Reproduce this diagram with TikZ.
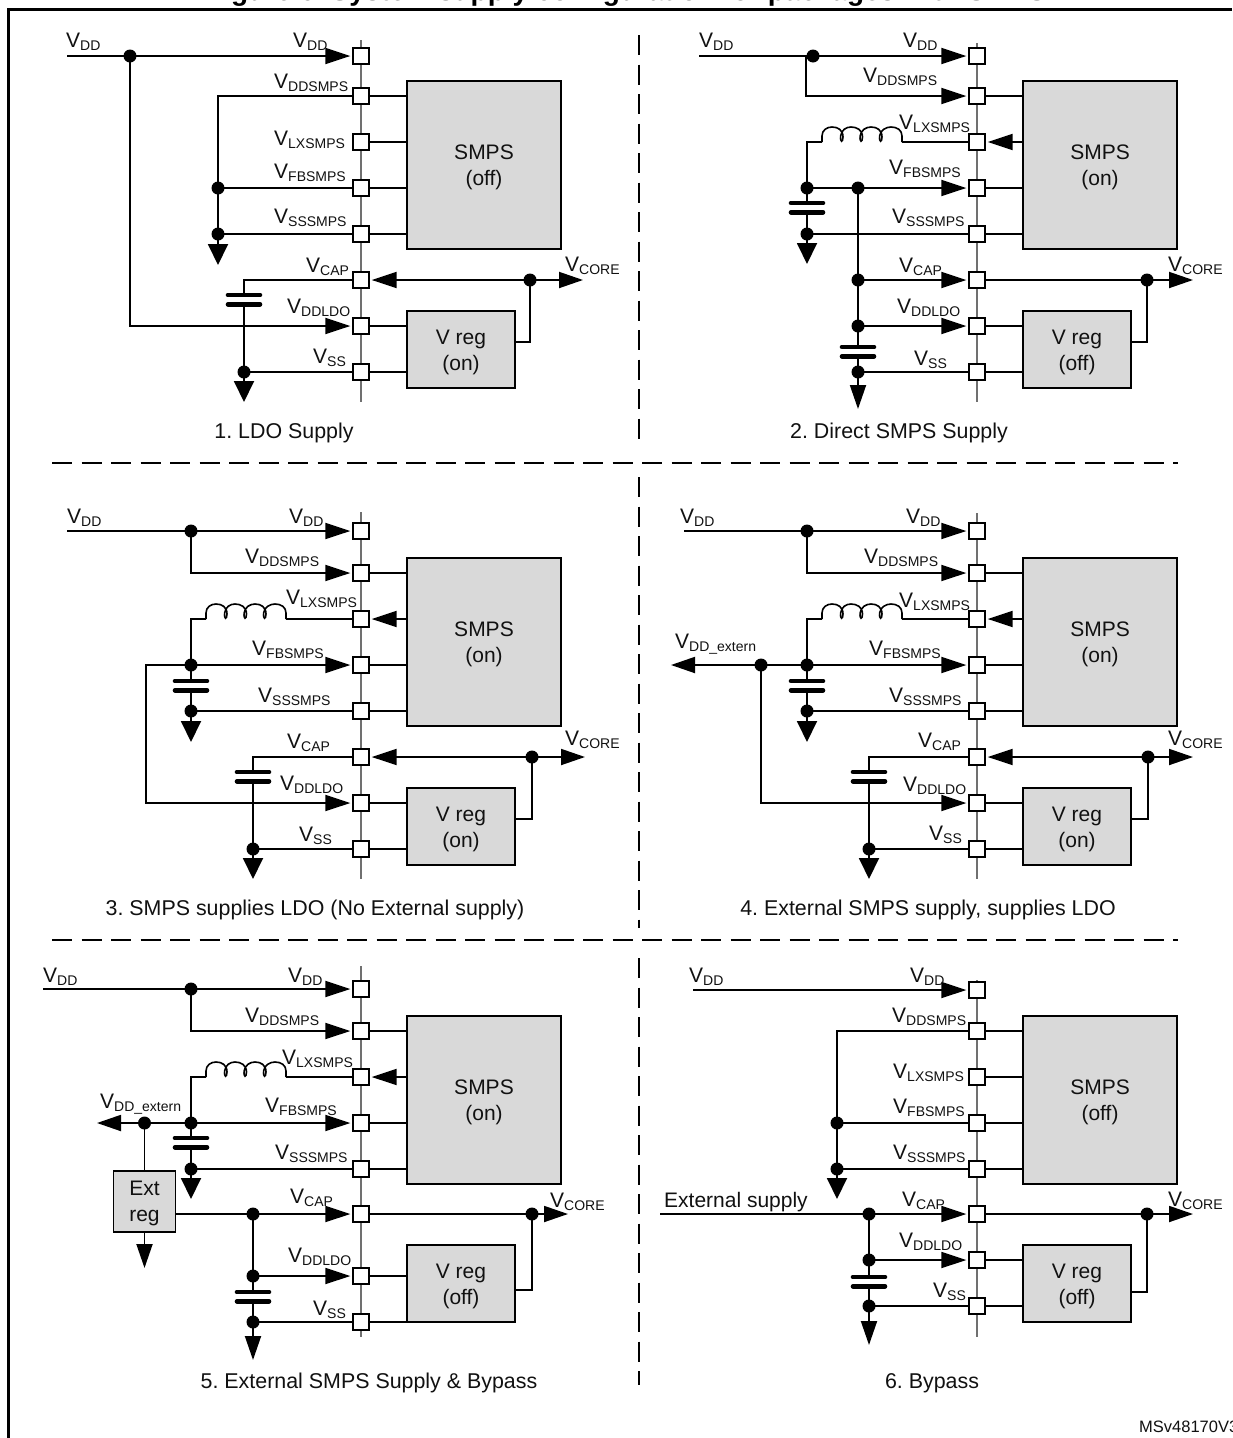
\documentclass[tikz,border=0pt]{standalone}
\usepackage{fontspec}
\setmainfont{Liberation Sans}
\usetikzlibrary{arrows.meta,calc}
\frenchspacing
\definecolor{boxgray}{HTML}{D9D9D9}
\definecolor{busgray}{HTML}{707070}
\definecolor{inkc}{HTML}{111111}
\tikzset{
  wire/.style={line width=1.9pt,draw=black,line join=miter},
  arr/.style={-{Triangle[length=25pt,width=16pt]},shorten >=2pt},
  tipcore/.style={-{Triangle[length=24pt,width=16pt]}},
  gnda/.style={-{Triangle[length=21pt,width=20pt]}},
  gndb/.style={-{Triangle[length=24pt,width=16pt]}},
  buswire/.style={line width=1.5pt,draw=busgray},
  padbox/.style={rectangle,draw=black,fill=white,line width=1.8pt,minimum size=15.5pt,inner sep=0pt},
  jdot/.style={circle,fill=black,minimum size=13pt,inner sep=0pt},
  plate/.style={line width=4.6pt,line cap=round},
  graybox/.style={rectangle,draw=black,fill=boxgray,line width=1.9pt,inner sep=0pt,align=center,
    font=\fontsize{21}{26}\selectfont,text=inkc},
  lab/.style={anchor=base west,inner sep=0pt,text=inkc},
  capt/.style={anchor=base,inner sep=0pt,text=inkc,font=\fontsize{21.4}{24}\selectfont},
  divider/.style={line width=2pt,dash pattern=on 20pt off 9.5pt},
}
\newcount\lc
\newcommand{\vlab}[3]{\global\advance\lc by 1
  \node[lab] (lab\the\lc) at (#1,#2) {\fontsize{21}{24}\selectfont V\raisebox{-3.5pt}{\fontsize{14}{16}\selectfont #3}};}
\newcommand{\chipbus}[9]{%
  \coordinate (#1-bt) at (#2,#3);
  \coordinate (#1-bb) at (#2,#4);
  \draw[buswire] (#1-bt) -- (#1-bb);
  \node[padbox] (#1-dd) at (#2,#5) {};
  \node[padbox] (#1-sm) at (#2,#6) {};
  \node[padbox] (#1-lx) at (#2,#6+46) {};
  \node[padbox] (#1-fb) at (#2,#6+92) {};
  \node[padbox] (#1-ss) at (#2,#6+138) {};
  \node[padbox] (#1-cap) at (#2,#7) {};
  \node[padbox] (#1-ldo) at (#2,#8) {};
  \node[padbox] (#1-vss) at (#2,#9) {};
}
\newcommand{\smpsbox}[4]{%
  \node[graybox,minimum width=154pt,minimum height=168pt] (#1-smps) at (#2,#3) {\rule{0pt}{19.5pt}SMPS\\(#4)};
  \draw[wire] (#1-sm.east) -- (#1-sm.east -| #1-smps.west);
  \draw[wire] (#1-fb.east) -- (#1-fb.east -| #1-smps.west);
  \draw[wire] (#1-ss.east) -- (#1-ss.east -| #1-smps.west);
}
\newcommand{\vregbox}[4]{%
  \node[graybox,minimum width=108pt,minimum height=77pt] (#1-vreg) at (#2,#3) {\rule{0pt}{20.5pt}V reg\\(#4)};
  \draw[wire] (#1-ldo.east) -- (#1-ldo.east -| #1-vreg.west);
  \draw[wire] (#1-vss.east) -- (#1-vss.east -| #1-vreg.west);
}
\newcommand{\lxin}[1]{\draw[wire,arr] (#1-lx -| #1-smps.west) -- (#1-lx.east);}
\newcommand{\lxoff}[1]{\draw[wire] (#1-lx.east) -- (#1-lx.east -| #1-smps.west);}
\newcommand{\jd}[3]{\node[jdot] (#1) at (#2,#3) {};}
\newcommand{\capc}[3]{%
  \coordinate (#1-t) at (#2,#3);
  \coordinate (#1-b) at (#2,#3+9.2);
  \draw[plate] (#2-16,#3) -- (#2+16,#3);
  \draw[plate] (#2-16,#3+9.2) -- (#2+16,#3+9.2);
}
\newcommand{\induct}[3]{%
  \coordinate (#1-l) at (#2,#3);
  \coordinate (#1-r) at (#2+80,#3);
  \begin{scope}[shift={(#2,#3)}]
  \draw[wire,line width=1.6pt] (0,0) -- (0,-6)
    .. controls (0,-12) and (5,-15) .. (10,-15) .. controls (16,-15) and (21,-12) .. (21,-5)
    .. controls (21,0.8) and (18,0.8) .. (18.6,-6)
    .. controls (19.5,-12) and (24,-15) .. (29,-15) .. controls (35,-15) and (40.5,-12) .. (40.5,-5)
    .. controls (40.5,0.8) and (37.5,0.8) .. (38.1,-6)
    .. controls (39,-12) and (44,-15) .. (49,-15) .. controls (55,-15) and (60,-12) .. (60,-5)
    .. controls (60,0.8) and (57,0.8) .. (57.6,-6)
    .. controls (58.5,-12) and (64,-15) .. (69,-15) .. controls (75,-15) and (80,-12) .. (80,-6) -- (80,0);
  \end{scope}
}
\begin{document}
\begin{tikzpicture}[x=1pt,y=-1pt]
\useasboundingbox (0,0) rectangle (1232,1438);
\fill[white] (0,0) rectangle (1232,1438);
\node[anchor=base west,inner sep=0pt,font=\bfseries\fontsize{28}{32}\selectfont] (title) at (206,0)
  {Figure 6. System supply configuration for packages with SMPS};
\draw[line width=2.6pt] (8.5,1438) -- (8.5,9.5) -- (1232,9.5);
\draw[divider] (639,35) -- (639,440);
\draw[divider] (639,477) -- (639,928);
\draw[divider] (639,958) -- (639,1385);
\draw[divider] (52,463) -- (1178,463);
\draw[divider] (52,940) -- (1178,940);
\node[anchor=base west,inner sep=0pt,text=inkc,font=\fontsize{16.5}{18}\selectfont] (mark) at (1139,1432) {MSv48170V3};

% ---------- Panel 1
\chipbus{p1}{361}{40}{402}{56}{96}{280}{326}{372}
\smpsbox{p1}{484}{165}{off}
\vregbox{p1}{461}{349.5}{on}
\lxoff{p1}
\jd{p1-a}{130}{56}\jd{p1-b}{218}{188}\jd{p1-c}{218}{234}\jd{p1-d}{244}{372}\jd{p1-e}{530}{280}
\coordinate (p1-in) at (67,56);
\coordinate (p1-g1) at (218,265);
\coordinate (p1-g2) at (244,402);
\coordinate (p1-core) at (583,280);
\coordinate (p1-f) at (515,342);
\capc{p1-k}{244}{295}
\draw[wire] (p1-in) -- (p1-a.center);
\draw[wire,arr] (p1-a.center) -- (p1-dd.west);
\draw[wire,arr] (p1-a.center) |- (p1-ldo.west);
\draw[wire] (p1-sm.west) -| (p1-b.center);
\draw[wire] (p1-b.center) -- (p1-c.center);
\draw[wire] (p1-b.center) -- (p1-fb.west);
\draw[wire] (p1-c.center) -- (p1-ss.west);
\draw[wire,gnda] (p1-c.center) -- (p1-g1);
\draw[wire] (p1-cap.west) -| (p1-k-t);
\draw[wire] (p1-k-b) -- (p1-d.center);
\draw[wire] (p1-d.center) -- (p1-vss.west);
\draw[wire,gnda] (p1-d.center) -- (p1-g2);
\draw[wire,arr] (p1-e.center) -- (p1-cap.east);
\draw[wire,tipcore] (p1-e.center) -- (p1-core);
\draw[wire] (p1-f) -| (p1-e.center);
\vlab{66}{47}{DD}\vlab{293}{47}{DD}\vlab{274}{88}{DDSMPS}\vlab{274}{145}{LXSMPS}
\vlab{274}{178}{FBSMPS}\vlab{274}{223}{SSSMPS}\vlab{306}{272}{CAP}\vlab{287}{313}{DDLDO}
\vlab{313}{363}{SS}\vlab{565}{271}{CORE}
\node[capt] (cap1) at (284,438) {1. LDO Supply};

% ---------- Panel 2
\chipbus{p2}{977}{43}{402}{56}{96}{280}{326}{372}
\smpsbox{p2}{1100}{165}{on}
\vregbox{p2}{1077}{349.5}{off}
\lxin{p2}
\jd{p2-a}{813}{56}\jd{p2-b}{807}{188}\jd{p2-c}{807}{234}\jd{p2-d}{858}{188}
\jd{p2-e}{858}{280}\jd{p2-h}{858}{326}\jd{p2-i}{858}{372}\jd{p2-j}{1147}{280}
\coordinate (p2-in) at (699,56);
\coordinate (p2-a1) at (806,56);
\coordinate (p2-g1) at (807,264);
\coordinate (p2-g2) at (858,409);
\coordinate (p2-core) at (1193,280);
\coordinate (p2-f) at (1131,342);
\induct{p2-l}{822}{142}
\capc{p2-k1}{807}{203}
\capc{p2-k2}{858}{347}
\draw[wire] (p2-in) -- (p2-a.center);
\draw[wire,arr] (p2-a.center) -- (p2-dd.west);
\draw[wire,arr] (p2-a1) |- (p2-sm.west);
\draw[wire] (p2-lx.west) -- (p2-l-r);
\draw[wire] (p2-l-l) -| (p2-b.center);
\draw[wire] (p2-b.center) -- (p2-k1-t);
\draw[wire] (p2-k1-b) -- (p2-c.center);
\draw[wire] (p2-b.center) -- (p2-d.center);
\draw[wire,arr] (p2-d.center) -- (p2-fb.west);
\draw[wire] (p2-c.center) -- (p2-ss.west);
\draw[wire,gnda] (p2-c.center) -- (p2-g1);
\draw[wire] (p2-d.center) -- (p2-e.center);
\draw[wire] (p2-e.center) -- (p2-h.center);
\draw[wire,arr] (p2-e.center) -- (p2-cap.west);
\draw[wire,arr] (p2-h.center) -- (p2-ldo.west);
\draw[wire] (p2-h.center) -- (p2-k2-t);
\draw[wire] (p2-k2-b) -- (p2-i.center);
\draw[wire] (p2-i.center) -- (p2-vss.west);
\draw[wire,gndb] (p2-i.center) -- (p2-g2);
\draw[wire] (p2-cap.east) -- (p2-j.center);
\draw[wire,tipcore] (p2-j.center) -- (p2-core);
\draw[wire] (p2-f) -| (p2-j.center);
\vlab{699}{47}{DD}\vlab{903}{47}{DD}\vlab{863}{82}{DDSMPS}\vlab{899}{129}{LXSMPS}
\vlab{889}{174}{FBSMPS}\vlab{892}{223}{SSSMPS}\vlab{899}{272}{CAP}\vlab{897}{313}{DDLDO}
\vlab{914}{365}{SS}\vlab{1168}{271}{CORE}
\node[capt] (cap2) at (899,438) {2. Direct SMPS Supply};

% ---------- Panel 3
\chipbus{p3}{361}{512}{879}{531}{573}{757}{803}{849}
\smpsbox{p3}{484}{642}{on}
\vregbox{p3}{461}{826.5}{on}
\lxin{p3}
\jd{p3-a}{191}{531}\jd{p3-b}{191}{665}\jd{p3-c}{191}{711}\jd{p3-d}{253}{849}\jd{p3-e}{532}{757}
\coordinate (p3-in) at (67,531);
\coordinate (p3-n) at (146,665);
\coordinate (p3-g1) at (191,742);
\coordinate (p3-g2) at (253,879);
\coordinate (p3-core) at (585,757);
\coordinate (p3-f) at (515,819);
\induct{p3-l}{206}{619}
\capc{p3-k1}{191}{681}
\capc{p3-k2}{253}{772}
\draw[wire] (p3-in) -- (p3-a.center);
\draw[wire,arr] (p3-a.center) -- (p3-dd.west);
\draw[wire,arr] (p3-a.center) |- (p3-sm.west);
\draw[wire] (p3-lx.west) -- (p3-l-r);
\draw[wire] (p3-l-l) -| (p3-b.center);
\draw[wire,arr] (p3-b.center) -- (p3-fb.west);
\draw[wire] (p3-b.center) -- (p3-k1-t);
\draw[wire] (p3-k1-b) -- (p3-c.center);
\draw[wire] (p3-c.center) -- (p3-ss.west);
\draw[wire,gnda] (p3-c.center) -- (p3-g1);
\draw[wire,arr] (p3-b.center) -- (p3-n) |- (p3-ldo.west);
\draw[wire] (p3-cap.west) -| (p3-k2-t);
\draw[wire] (p3-k2-b) -- (p3-d.center);
\draw[wire] (p3-d.center) -- (p3-vss.west);
\draw[wire,gnda] (p3-d.center) -- (p3-g2);
\draw[wire,arr] (p3-e.center) -- (p3-cap.east);
\draw[wire,tipcore] (p3-e.center) -- (p3-core);
\draw[wire] (p3-f) -| (p3-e.center);
\vlab{67}{523}{DD}\vlab{289}{523}{DD}\vlab{245}{563}{DDSMPS}\vlab{286}{604}{LXSMPS}
\vlab{252}{655}{FBSMPS}\vlab{258}{702}{SSSMPS}\vlab{287}{748}{CAP}\vlab{280}{790}{DDLDO}
\vlab{299}{841}{SS}\vlab{565}{745}{CORE}
\node[capt] (cap3) at (315,915) {3. SMPS supplies LDO (No External supply)};

% ---------- Panel 4
\chipbus{p4}{977}{513}{879}{531}{573}{757}{803}{849}
\smpsbox{p4}{1100}{642}{on}
\vregbox{p4}{1077}{826.5}{on}
\lxin{p4}
\jd{p4-a}{807}{531}\jd{p4-b}{807}{665}\jd{p4-n}{761}{665}\jd{p4-c}{807}{711}\jd{p4-d}{869}{849}\jd{p4-e}{1148}{757}
\coordinate (p4-in) at (684,531);
\coordinate (p4-out) at (671,665);
\coordinate (p4-g1) at (807,742);
\coordinate (p4-g2) at (869,879);
\coordinate (p4-core) at (1193,757);
\coordinate (p4-f) at (1131,819);
\induct{p4-l}{822}{619}
\capc{p4-k1}{807}{681}
\capc{p4-k2}{869}{772}
\draw[wire] (p4-in) -- (p4-a.center);
\draw[wire,arr] (p4-a.center) -- (p4-dd.west);
\draw[wire,arr] (p4-a.center) |- (p4-sm.west);
\draw[wire] (p4-lx.west) -- (p4-l-r);
\draw[wire] (p4-l-l) -| (p4-b.center);
\draw[wire,arr] (p4-b.center) -- (p4-fb.west);
\draw[wire] (p4-b.center) -- (p4-n.center);
\draw[wire,tipcore] (p4-n.center) -- (p4-out);
\draw[wire,arr] (p4-n.center) |- (p4-ldo.west);
\draw[wire] (p4-b.center) -- (p4-k1-t);
\draw[wire] (p4-k1-b) -- (p4-c.center);
\draw[wire] (p4-c.center) -- (p4-ss.west);
\draw[wire,gnda] (p4-c.center) -- (p4-g1);
\draw[wire] (p4-cap.west) -| (p4-k2-t);
\draw[wire] (p4-k2-b) -- (p4-d.center);
\draw[wire] (p4-d.center) -- (p4-vss.west);
\draw[wire,gnda] (p4-d.center) -- (p4-g2);
\draw[wire,arr] (p4-e.center) -- (p4-cap.east);
\draw[wire,tipcore] (p4-e.center) -- (p4-core);
\draw[wire] (p4-f) -| (p4-e.center);
\vlab{680}{523}{DD}\vlab{906}{523}{DD}\vlab{864}{563}{DDSMPS}\vlab{899}{607}{LXSMPS}
\vlab{869}{655}{FBSMPS}\vlab{889}{702}{SSSMPS}\vlab{918}{747}{CAP}\vlab{903}{791}{DDLDO}
\vlab{929}{840}{SS}\vlab{675}{648}{DD\_extern}\vlab{1168}{745}{CORE}
\node[capt] (cap4) at (928,915) {4. External SMPS supply, supplies LDO};

% ---------- Panel 5
\chipbus{p5}{361}{966}{1337}{989}{1031}{1214}{1276}{1322}
\smpsbox{p5}{484}{1100}{on}
\vregbox{p5}{461}{1283.5}{off}
\lxin{p5}
\jd{p5-a}{191}{989}\jd{p5-b}{191}{1123}\jd{p5-n}{144.5}{1123}\jd{p5-c}{191}{1169}
\jd{p5-d}{253}{1214}\jd{p5-h}{253}{1276}\jd{p5-i}{253}{1322}\jd{p5-e}{532}{1214}
\node[graybox,minimum width=62pt,minimum height=61pt] (p5-ext) at (144.5,1201.5) {\rule{0pt}{18.5pt}Ext\\reg};
\coordinate (p5-in) at (43,989);
\coordinate (p5-out) at (97,1123);
\coordinate (p5-g1) at (191,1199);
\coordinate (p5-g2) at (253,1360);
\coordinate (p5-g3) at (144.5,1268);
\coordinate (p5-core) at (568,1214);
\coordinate (p5-f) at (515,1290);
\induct{p5-l}{206}{1077}
\capc{p5-k1}{191}{1138}
\capc{p5-k2}{253}{1292}
\draw[wire] (p5-in) -- (p5-a.center);
\draw[wire,arr] (p5-a.center) -- (p5-dd.west);
\draw[wire,arr] (p5-a.center) |- (p5-sm.west);
\draw[wire] (p5-lx.west) -- (p5-l-r);
\draw[wire] (p5-l-l) -| (p5-b.center);
\draw[wire,arr] (p5-b.center) -- (p5-fb.west);
\draw[wire] (p5-b.center) -- (p5-n.center);
\draw[wire,tipcore] (p5-n.center) -- (p5-out);
\draw[wire] (p5-n.center) -- (p5-ext.north);
\draw[wire,gndb] (p5-ext.south) -- (p5-g3);
\draw[wire] (p5-b.center) -- (p5-k1-t);
\draw[wire] (p5-k1-b) -- (p5-c.center);
\draw[wire] (p5-c.center) -- (p5-ss.west);
\draw[wire,gnda] (p5-c.center) -- (p5-g1);
\draw[wire] (p5-ext.east |- p5-d.center) -- (p5-d.center);
\draw[wire,arr] (p5-d.center) -- (p5-cap.west);
\draw[wire] (p5-d.center) -- (p5-h.center);
\draw[wire,arr] (p5-h.center) -- (p5-ldo.west);
\draw[wire] (p5-h.center) -- (p5-k2-t);
\draw[wire] (p5-k2-b) -- (p5-i.center);
\draw[wire] (p5-i.center) -- (p5-vss.west);
\draw[wire,gndb] (p5-i.center) -- (p5-g2);
\draw[wire] (p5-cap.east) -- (p5-e.center);
\draw[wire,tipcore] (p5-e.center) -- (p5-core);
\draw[wire] (p5-f) -| (p5-e.center);
\vlab{43}{982}{DD}\vlab{288}{982}{DD}\vlab{245}{1022}{DDSMPS}\vlab{282}{1064}{LXSMPS}
\vlab{100}{1108}{DD\_extern}\vlab{265}{1112}{FBSMPS}\vlab{275}{1159}{SSSMPS}\vlab{290}{1203}{CAP}
\vlab{288}{1262}{DDLDO}\vlab{313}{1315}{SS}\vlab{550}{1207}{CORE}
\node[capt] (cap5) at (369,1388) {5. External SMPS Supply \& Bypass};

% ---------- Panel 6
\chipbus{p6}{977}{980}{1337}{990}{1031}{1214}{1260}{1306}
\smpsbox{p6}{1100}{1100}{off}
\vregbox{p6}{1077}{1283.5}{off}
\lxoff{p6}
\jd{p6-b}{837}{1123}\jd{p6-c}{837}{1169}\jd{p6-d}{869}{1214}\jd{p6-h}{869}{1260}\jd{p6-i}{869}{1306}\jd{p6-e}{1147}{1214}
\coordinate (p6-in) at (693,990);
\coordinate (p6-ext) at (660,1214);
\coordinate (p6-g1) at (837,1199);
\coordinate (p6-g2) at (869,1345);
\coordinate (p6-core) at (1193,1214);
\coordinate (p6-f) at (1131,1292);
\capc{p6-k}{869}{1277}
\draw[wire,arr] (p6-in) -- (p6-dd.west);
\draw[wire] (p6-sm.west) -| (p6-b.center);
\draw[wire] (p6-b.center) -- (p6-c.center);
\draw[wire] (p6-b.center) -- (p6-fb.west);
\draw[wire] (p6-c.center) -- (p6-ss.west);
\draw[wire,gnda] (p6-c.center) -- (p6-g1);
\draw[wire] (p6-ext) -- (p6-d.center);
\draw[wire,arr] (p6-d.center) -- (p6-cap.west);
\draw[wire] (p6-d.center) -- (p6-h.center);
\draw[wire,arr] (p6-h.center) -- (p6-ldo.west);
\draw[wire] (p6-h.center) -- (p6-k-t);
\draw[wire] (p6-k-b) -- (p6-i.center);
\draw[wire] (p6-i.center) -- (p6-vss.west);
\draw[wire,gndb] (p6-i.center) -- (p6-g2);
\draw[wire] (p6-cap.east) -- (p6-e.center);
\draw[wire,tipcore] (p6-e.center) -- (p6-core);
\draw[wire] (p6-f) -| (p6-e.center);
\vlab{689}{982}{DD}\vlab{910}{982}{DD}\vlab{892}{1022}{DDSMPS}\vlab{893}{1078}{LXSMPS}
\vlab{893}{1113}{FBSMPS}\vlab{893}{1159}{SSSMPS}\vlab{902}{1206}{CAP}\vlab{899}{1247}{DDLDO}
\vlab{933}{1297}{SS}\vlab{1168}{1206}{CORE}
\node[lab,font=\fontsize{21}{24}\selectfont] (p6-extlab) at (664,1207) {External supply};
\node[capt] (cap6) at (932,1388) {6. Bypass};
\end{tikzpicture}
\end{document}
